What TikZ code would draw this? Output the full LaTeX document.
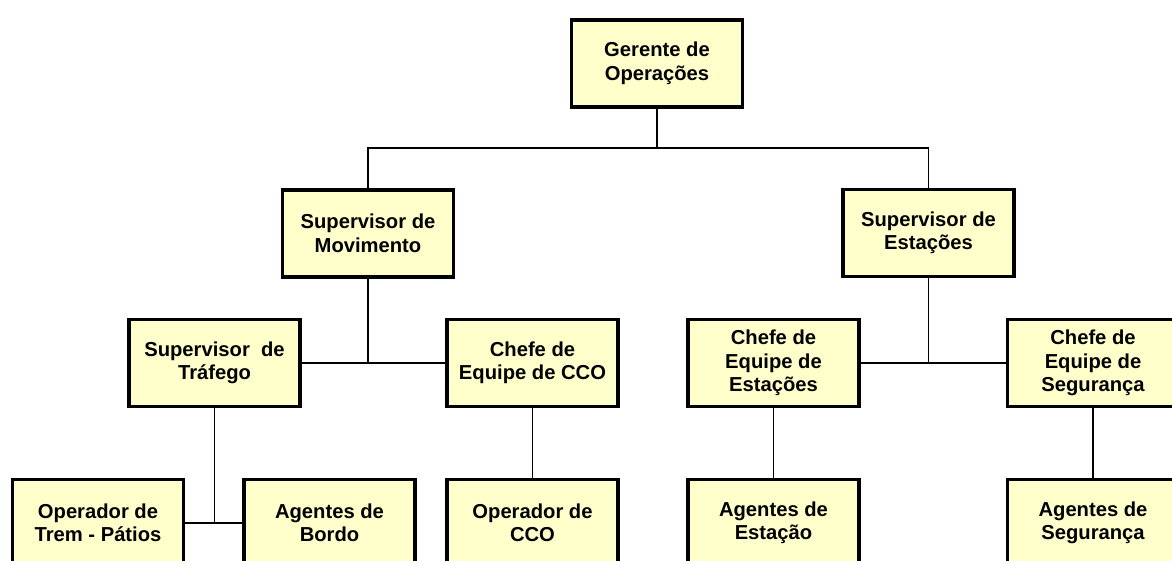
\documentclass[tikz,border=0pt]{standalone}
\usepackage{fontspec}
\setmainfont{Liberation Sans}
\definecolor{boxfill}{HTML}{FFFFCC}
\begin{document}
\begin{tikzpicture}[x=1pt,y=-1pt,
  box/.style={draw=black, line width=3.6pt, fill=boxfill, minimum width=171pt, minimum height=87pt,
    inner sep=0pt, align=center, font=\fontsize{20.2}{23.5}\selectfont\bfseries},
  conn/.style={line width=1.3pt, draw=black}]
\useasboundingbox (0,0) rectangle (1172,561);
\node[box] (ger) at (657,63.5) {Gerente de\\Operações};
\node[box] (mov) at (368,233.5) {Supervisor de\\Movimento};
\node[box] (est) at (928.5,233) {Supervisor de\\Estações};
\node[box] (tra) at (214.5,363) {Supervisor\ \ de\\Tráfego};
\node[box] (cco) at (532.5,363) {Chefe de\\Equipe de CCO};
\node[box] (cee) at (773.5,363) {Chefe de\\Equipe de\\Estações};
\node[box] (ces) at (1093,363) {Chefe de\\Equipe de\\Segurança};
\node[box] (otp) at (98,523) {Operador de\\Trem - Pátios};
\node[box] (abo) at (329.5,523) {Agentes de\\Bordo};
\node[box] (ocf) at (532.5,523) {Operador de\\CCO};
\node[box] (aes) at (773.5,523) {Agentes de\\Estação};
\node[box] (asg) at (1093,523) {Agentes de\\Segurança};
\coordinate (j0) at (ger.south |- 0,148);
\coordinate (j1) at (mov.south |- 0,363);
\coordinate (j2) at (est.south |- 0,363);
\coordinate (j3) at (tra.south |- 0,523);
\draw[line width=2pt] (ger.south) -- (j0);
\draw[conn] (mov.north) |- (j0) -| (est.north);
\draw[conn] (mov.south) -- (j1);
\draw[conn] (tra.east) -- (cco.west);
\draw[conn] (est.south) -- (j2);
\draw[conn] (cee.east) -- (ces.west);
\draw[conn] (tra.south) -- (j3);
\draw[conn] (otp.east) -- (abo.west);
\draw[conn] (cco.south) -- (ocf.north);
\draw[conn] (cee.south) -- (aes.north);
\draw[conn] (ces.south) -- (asg.north);
\end{tikzpicture}
\end{document}
